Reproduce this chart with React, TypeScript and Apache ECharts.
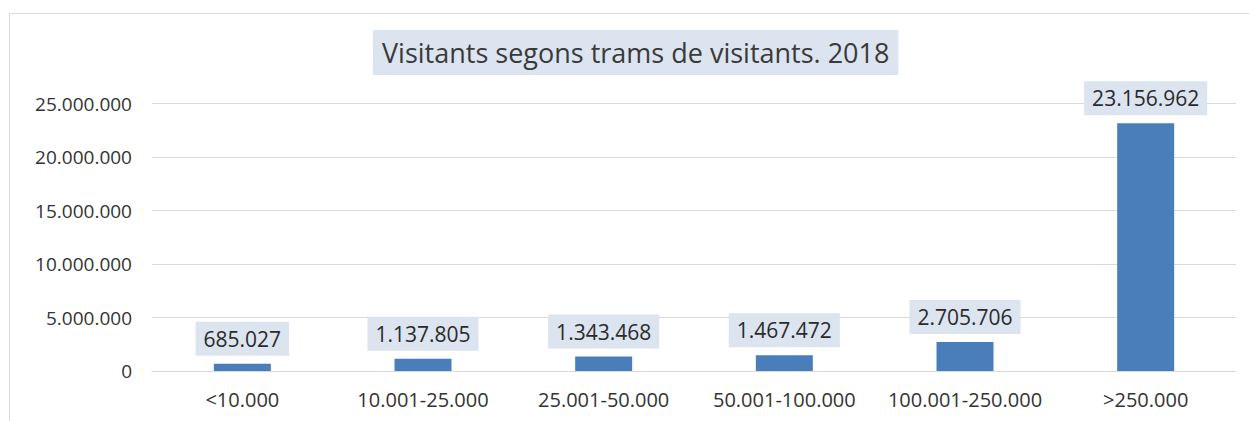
import React, { useEffect, useRef } from "react";
import * as echarts from "echarts";

const categories = ["<10.000", "10.001-25.000", "25.001-50.000", "50.001-100.000", "100.001-250.000", ">250.000"];
const visitors = [685027, 1137805, 1343468, 1467472, 2705706, 23156962];
const yTicks = [0, 5000000, 10000000, 15000000, 20000000, 25000000];
const titleText = "Visitants segons trams de visitants. 2018";

const fmt = (v: number) => String(Math.round(v)).replace(/\B(?=(\d{3})+(?!\d))/g, ".");

const FONT = "'Open Sans', 'Noto Sans', sans-serif";

export default function App() {
  const ref = useRef<HTMLDivElement>(null);
  useEffect(() => {
    if (!ref.current) return;
    const chart = echarts.init(ref.current, undefined, { renderer: "svg" });
    chart.setOption({
      animation: false,
      backgroundColor: "#ffffff",
      textStyle: { fontFamily: FONT },
      title: {
        text: titleText,
        left: 373,
        top: 30,
        padding: [8, 9, 8, 9],
        backgroundColor: "#DCE4F0",
        textStyle: { fontFamily: FONT, fontSize: 27, fontWeight: "normal", color: "#3A3A3A", lineHeight: 29 },
      },
      graphic: [
        {
          type: "rect",
          shape: { x: 9.5, y: 13.5, width: 1260, height: 430 },
          style: { fill: "none", stroke: "#D9D9D9", lineWidth: 1 },
          silent: true,
          z: -10,
        },
      ],
      grid: { left: 152, right: 13, top: 103.5, bottom: 50, containLabel: false },
      xAxis: {
        type: "category",
        data: categories,
        axisLine: { show: true, lineStyle: { color: "#D9D9D9", width: 1 } },
        axisTick: { show: false },
        axisLabel: { fontFamily: FONT, fontSize: 20, color: "#333333", margin: 18, interval: 0 },
      },
      yAxis: {
        type: "value",
        min: yTicks[0],
        max: yTicks[yTicks.length - 1],
        interval: yTicks[1] - yTicks[0],
        axisLine: { show: false },
        axisTick: { show: false },
        splitLine: { lineStyle: { color: "#D9D9D9", width: 1 } },
        axisLabel: { fontFamily: FONT, fontSize: 19, color: "#333333", margin: 20, formatter: (v: number) => fmt(v) },
      },
      series: [
        {
          type: "bar",
          data: visitors,
          barWidth: 57,
          itemStyle: { color: "#4A7EBB" },
          label: {
            show: true,
            position: "top",
            distance: 8,
            formatter: (p: any) => fmt(p.value),
            fontFamily: FONT,
            fontSize: 21,
            color: "#2B2B2B",
            backgroundColor: "#DCE4F0",
            padding: [6, 8, 6, 8],
            lineHeight: 22,
          },
        },
      ],
    });
    return () => chart.dispose();
  }, []);
  return <div ref={ref} style={{ position: "absolute", left: 0, top: 0, width: 1249, height: 421 }} />;
}
